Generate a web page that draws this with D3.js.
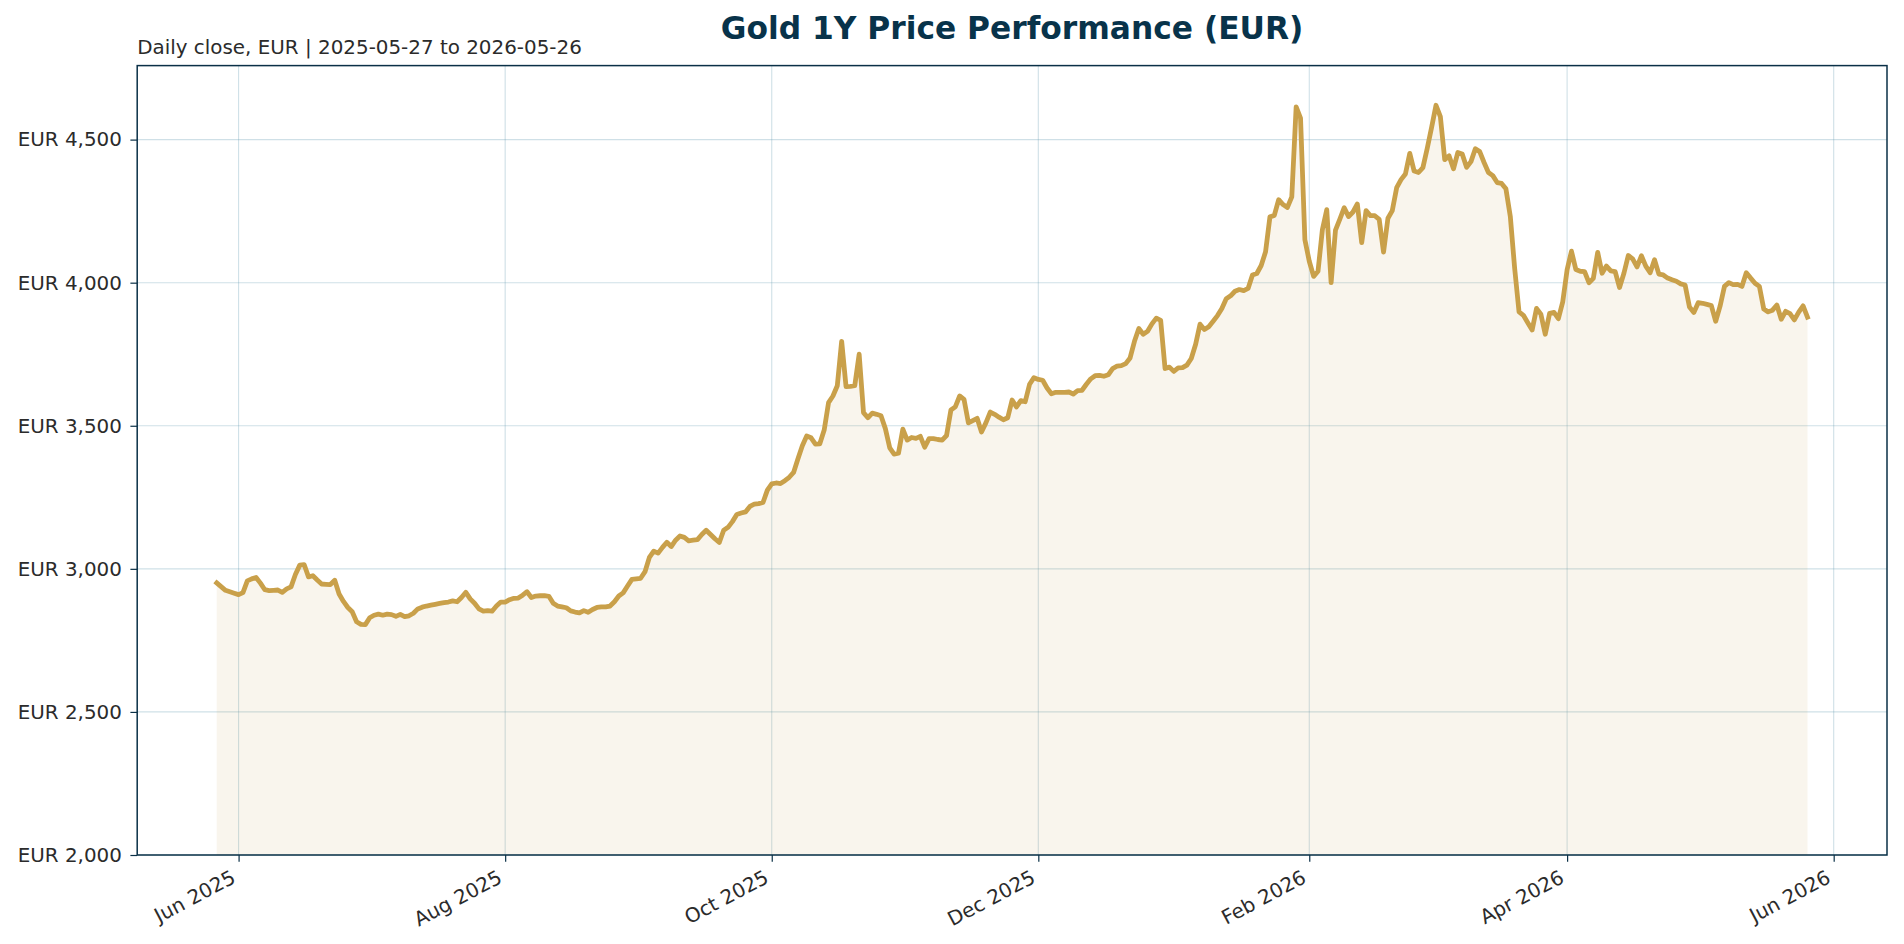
<!DOCTYPE html>
<html>
<head>
<meta charset="utf-8">
<script src="https://cdn.jsdelivr.net/npm/d3@7/dist/d3.min.js"></script>
<style>
html,body{margin:0;padding:0;background:#ffffff;}
svg{display:block;font-family:"DejaVu Sans",sans-serif;}
</style>
</head>
<body>
<svg id="chart" width="1904" height="944"></svg>
<script>
// ---- data (daily close, EUR, one value per calendar day from startDate) ----
const startDate = "2025-05-27";
const endDate = "2026-05-26";
const closes = [
2951,2938,2925,2920,2915,2910,2917,2958,2965,2970,
2950,2927,2924,2925,2926,2918,2930,2937,2980,3013,
3015,2972,2976,2961,2947,2946,2945,2960,2912,2886,
2865,2850,2815,2806,2805,2829,2838,2842,2838,2842,
2840,2834,2841,2833,2836,2845,2860,2866,2870,2873,
2876,2879,2882,2884,2888,2885,2900,2918,2895,2880,
2860,2852,2854,2852,2870,2884,2884,2892,2897,2898,
2908,2920,2900,2905,2906,2906,2904,2880,2870,2867,
2864,2853,2849,2846,2854,2848,2858,2865,2867,2867,
2870,2885,2905,2916,2940,2963,2965,2967,2990,3040,
3062,3055,3075,3093,3078,3100,3115,3110,3098,3100,
3102,3120,3135,3120,3105,3092,3135,3145,3165,3190,
3195,3199,3218,3226,3228,3232,3275,3297,3300,3298,
3308,3320,3337,3385,3430,3464,3458,3436,3437,3485,
3581,3604,3640,3795,3637,3638,3640,3750,3546,3528,
3544,3540,3535,3490,3423,3401,3404,3488,3450,3459,
3456,3463,3425,3455,3455,3452,3450,3466,3555,3566,
3604,3592,3510,3518,3526,3478,3510,3548,3540,3530,
3521,3528,3590,3566,3588,3584,3645,3668,3662,3659,
3632,3612,3617,3617,3617,3618,3611,3623,3624,3645,
3664,3675,3676,3673,3678,3700,3708,3710,3717,3737,
3795,3840,3820,3830,3856,3876,3868,3700,3705,3690,
3702,3703,3712,3735,3785,3855,3836,3846,3865,3885,
3910,3944,3954,3970,3976,3972,3980,4027,4032,4060,
4108,4230,4235,4290,4273,4263,4300,4614,4575,4150,
4075,4022,4040,4185,4255,4000,4184,4222,4262,4231,
4247,4275,4140,4252,4234,4234,4221,4107,4225,4252,
4332,4360,4380,4452,4390,4385,4402,4470,4543,4620,
4580,4430,4443,4398,4455,4450,4403,4423,4468,4458,
4420,4385,4374,4350,4347,4328,4232,4050,3898,3886,
3860,3835,3910,3890,3820,3893,3896,3874,3933,4045,
4110,4046,4040,4039,4000,4015,4106,4033,4058,4041,
4039,3983,4033,4095,4083,4055,4094,4058,4035,4080,
4030,4027,4016,4010,4005,3996,3992,3915,3896,3930,
3928,3924,3920,3865,3918,3987,4000,3993,3994,3987,
4035,4016,3998,3987,3908,3898,3904,3922,3872,3900,
3892,3870,3897,3919,3880
];
const yTicks = [2000, 2500, 3000, 3500, 4000, 4500];
const xTicks = ["2025-06-01","2025-08-01","2025-10-01","2025-12-01","2026-02-01","2026-04-01","2026-06-01"];
const titleText = "Gold 1Y Price Performance (EUR)";
const subtitleText = "Daily close, EUR | 2025-05-27 to 2026-05-26";

// ---- build series ----
const parse = d3.utcParse("%Y-%m-%d");
const t0 = parse(startDate);
const series = closes.map((v, i) => ({ date: d3.utcDay.offset(t0, i), value: v }));

// ---- layout ----
const W = 1904, H = 944;
const m = { left: 137.2, right: 17, top: 65.6, bottom: 89 };
const plotL = m.left, plotR = W - m.right, plotT = m.top, plotB = H - m.bottom;

const t1 = parse(endDate);
const span = t1 - t0;
const x = d3.scaleUtc()
  .domain([new Date(+t0 - span * 0.05), new Date(+t1 + span * 0.05)])
  .range([plotL, plotR]);
const yMax = d3.max(closes) * 1.03;
const y = d3.scaleLinear().domain([2000, yMax]).range([plotB, plotT]);

const svg = d3.select("#chart");
const navy = "#0a3047";
const gold = "#c9a04a";
const fontSize = 19.9;
const textColor = "#2b2b2b";

// gridlines
const grid = svg.append("g");
grid.selectAll("line.gy").data(yTicks).enter().append("line")
  .attr("x1", plotL).attr("x2", plotR)
  .attr("y1", d => y(d)).attr("y2", d => y(d))
  .attr("stroke", "#5f98b0").attr("stroke-opacity", 0.3).attr("stroke-width", 1.1);
grid.selectAll("line.gx").data(xTicks.map(parse)).enter().append("line")
  .attr("x1", d => x(d)).attr("x2", d => x(d))
  .attr("y1", plotT).attr("y2", plotB)
  .attr("stroke", "#5f98b0").attr("stroke-opacity", 0.3).attr("stroke-width", 1.1);

// area fill
const area = d3.area().x(d => x(d.date)).y0(y(2000)).y1(d => y(d.value));
svg.append("path").datum(series)
  .attr("d", area).attr("fill", gold).attr("fill-opacity", 0.1);

// line
const line = d3.line().x(d => x(d.date)).y(d => y(d.value));
svg.append("path").datum(series)
  .attr("d", line).attr("fill", "none")
  .attr("stroke", gold).attr("stroke-width", 4.8)
  .attr("stroke-linejoin", "round").attr("stroke-linecap", "square");

// axes
const fmtY = d => "EUR " + d3.format(",")(d);
const yAxis = d3.axisLeft(y).tickValues(yTicks).tickFormat(fmtY).tickSize(6.8).tickPadding(8.5);
const gy = svg.append("g").attr("transform", `translate(${plotL},0)`).call(yAxis);
gy.select(".domain").remove();
gy.selectAll(".tick line").attr("stroke", navy).attr("stroke-width", 1.2);
gy.selectAll(".tick text").attr("fill", textColor)
  .style("font-family", '"DejaVu Sans",sans-serif').style("font-size", fontSize + "px");

const xAxis = d3.axisBottom(x).tickValues(xTicks.map(parse)).tickFormat(d3.utcFormat("%b %Y")).tickSize(6.8).tickPadding(0);
const gx = svg.append("g").attr("transform", `translate(0,${plotB})`).call(xAxis);
gx.select(".domain").remove();
gx.selectAll(".tick line").attr("stroke", navy).attr("stroke-width", 1.2);
gx.selectAll(".tick text")
  .attr("fill", textColor)
  .style("font-family", '"DejaVu Sans",sans-serif').style("font-size", fontSize + "px")
  .attr("text-anchor", "end")
  .attr("dy", null)
  .attr("y", 0)
  .attr("transform", "translate(-9,14) rotate(-28)")
  .attr("dominant-baseline", "hanging");

// frame
svg.append("rect")
  .attr("x", plotL).attr("y", plotT)
  .attr("width", plotR - plotL).attr("height", plotB - plotT)
  .attr("fill", "none").attr("stroke", navy).attr("stroke-width", 1.5);

// title & subtitle
svg.append("text")
  .attr("x", (plotL + plotR) / 2).attr("y", 39)
  .attr("text-anchor", "middle")
  .attr("fill", "#08334a")
  .style("font-size", "31.3px").style("font-weight", "bold")
  .text(titleText);
svg.append("text")
  .attr("x", plotL).attr("y", 54)
  .attr("fill", textColor)
  .style("font-size", fontSize + "px")
  .text(subtitleText);
</script>
</body>
</html>
